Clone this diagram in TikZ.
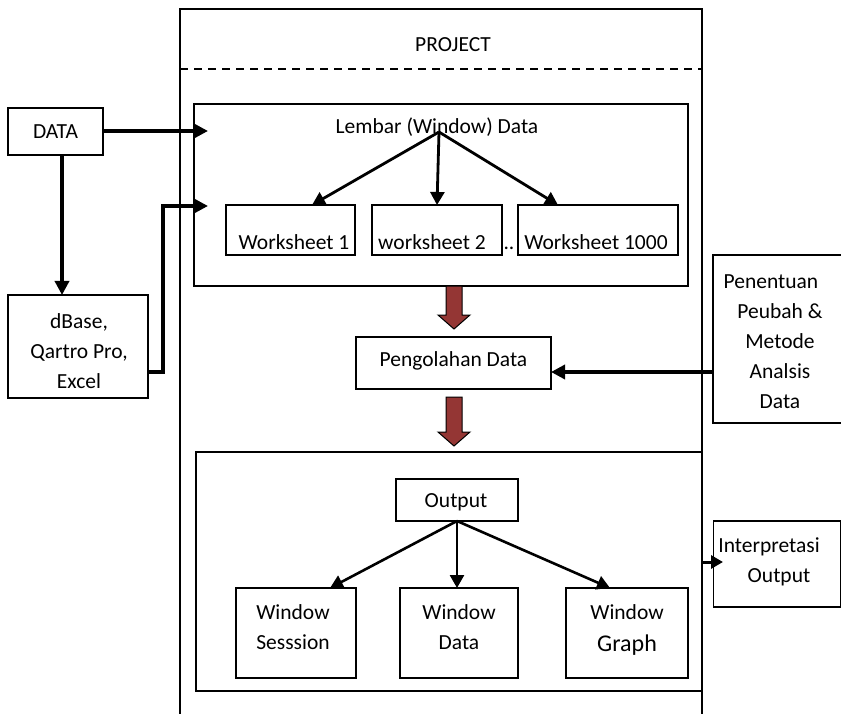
\documentclass[tikz,border=0pt]{standalone}
\usepackage{fontspec}
\setmainfont{Carlito}
\usetikzlibrary{arrows.meta}
\definecolor{darkred}{HTML}{943634}
\tikzset{
  box/.style={draw=black, line width=1.5pt, inner sep=0pt, outer sep=0pt},
  txt/.style={font=\fontsize{21.5}{30}\selectfont, inner sep=0pt, align=center},
  fatarrow/.style={line width=3.4pt, -{Triangle[length=14pt,width=14pt]}},
  midarrow/.style={line width=2.8pt, -{Triangle[length=13pt,width=14pt]}},
  redarrow/.style={fill=darkred, draw=black, line width=1pt},
}
\begin{document}
\begin{tikzpicture}[x=1pt,y=-1pt]
\useasboundingbox (0,0) rectangle (841,714);

% project frame
\draw[line width=1.9pt] (180,714) -- (180,9) -- (702,9) -- (702,714);
\draw[line width=1.7pt, dash pattern=on 8pt off 6pt] (180,69) -- (702,69);
\node[txt] (project) at (453,45) {PROJECT};

% Lembar box
\node[box, minimum width=494, minimum height=182] (lembar) at (441,195) {};
\node[txt] (lembartxt) at (437,127) {Lembar (Window) Data};
\coordinate (apex) at (439,132);

% worksheets
\node[box, minimum width=129, minimum height=50] (ws1) at (290.5,230) {};
\node[box, minimum width=130, minimum height=50] (ws2) at (437,230) {};
\node[box, minimum width=160, minimum height=50] (ws3) at (598,230) {};
\node[txt, anchor=base] at (294,250) {Worksheet 1};
\node[txt, anchor=base] at (432,250) {worksheet 2};
\node[txt, anchor=base] at (509,250) {..};
\node[txt, anchor=base] at (596,250) {Worksheet 1000};

\draw[midarrow] (apex) -- (312,205);
\draw[midarrow] (apex) -- (ws2.north);
\draw[midarrow] (apex) -- (558,205);

% DATA
\node[box, minimum width=95, minimum height=47] (data) at (55.5,131.5) {};
\node[txt] at (data) {DATA};
\node[box, minimum width=140, minimum height=103] (dbase) at (78,346.5) {};
\node[txt] at (79,351) {dBase,\\Qartro Pro,\\Excel};
\coordinate (dx) at (62,0);
\coordinate (in1) at (208,131);
\coordinate (in2) at (208,206);
\draw[fatarrow] (data.east |- in1) -- (in1);
\draw[fatarrow] (data.south -| dx) -- (dbase.north -| dx);
\draw[line width=3.4pt, -{Triangle[length=14pt,width=14pt]}] (148,372) -- (163,372) -- (163,206) -- (in2);

% red arrows
\draw[redarrow] (446,286) -- (462,286) -- (462,315) -- (470,315) -- (454,329) -- (438,315) -- (446,315) -- cycle;
\draw[redarrow] (446,397) -- (462,397) -- (462,432) -- (470,432) -- (454,446) -- (438,432) -- (446,432) -- cycle;

% Pengolahan
\node[box, minimum width=195, minimum height=52] (olah) at (453.5,363) {};
\node[txt] at (453.5,361) {Pengolahan Data};

% Penentuan
\node[box, minimum width=140, minimum height=168] (tentu) at (783,339) {};
\node[txt] at (780,342) {Penentuan\hspace*{18pt}\\Peubah \&\\Metode\\Analsis\\Data};
\draw[fatarrow] (tentu.west |- 0,372) -- (olah.east |- 0,372);

% bottom box
\node[box, minimum width=506, minimum height=239] (bottom) at (449,571.5) {};
\node[box, minimum width=122, minimum height=42] (output) at (457,500) {};
\node[txt] at (456,502) {Output};

\node[box, minimum width=120, minimum height=90] (wsess) at (296,633) {};
\node[box, minimum width=118, minimum height=90] (wdata) at (459,633) {};
\node[box, minimum width=122, minimum height=90] (wgraph) at (627,633) {};
\node[txt] at (293,627) {Window\\Sesssion};
\node[txt] at (459,627) {Window\\Data};
\node[txt] at (627,612) {Window};
\node[txt, font=\fontsize{24}{30}\selectfont] at (627,645) {Graph};

\draw[line width=2.6pt, -{Triangle[length=13pt,width=14pt]}] (output.south) -- (330,588);
\draw[line width=2.6pt, -{Triangle[length=13pt,width=14pt]}] (output.south) -- (output.south |- wdata.north);
\draw[line width=2.6pt, -{Triangle[length=13pt,width=14pt]}] (output.south) -- (610,588);

% Interpretasi
\node[box, minimum width=127, minimum height=86] (interp) at (777,564) {};
\node[txt] at (779,562) {Interpretasi\hspace*{20pt}\\Output};
\coordinate (intip) at (723,562);
\draw[line width=3pt, -{Triangle[length=12pt,width=13pt]}] (bottom.east |- intip) -- (intip);

\end{tikzpicture}
\end{document}
